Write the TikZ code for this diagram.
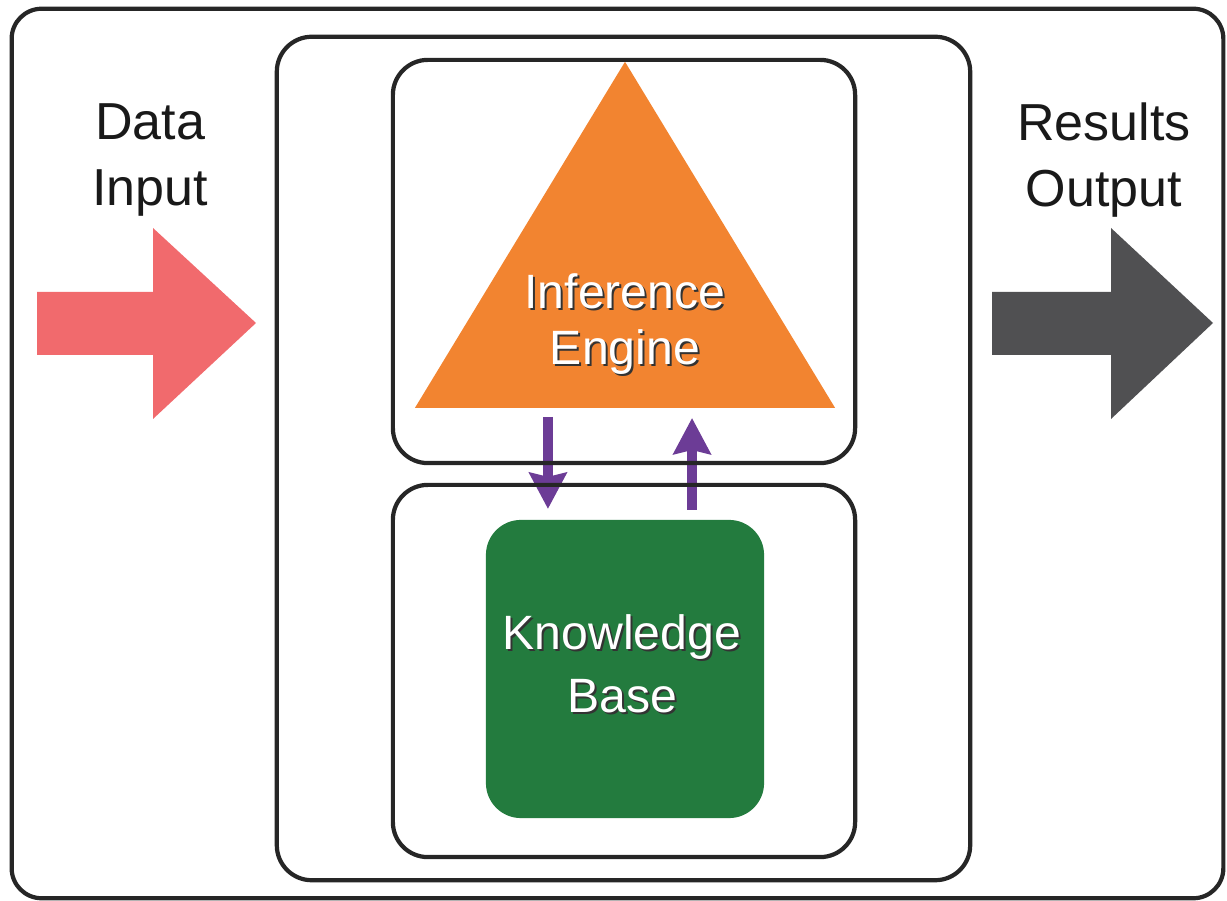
\documentclass[tikz,border=0pt]{standalone}
\usepackage{fontspec}
\setmainfont{Liberation Sans}
\usetikzlibrary{positioning,arrows.meta,shapes.geometric}

\definecolor{inred}{RGB}{241,106,109}
\definecolor{outgray}{RGB}{80,80,82}
\definecolor{ieorange}{RGB}{242,132,48}
\definecolor{kbgreen}{RGB}{35,123,62}
\definecolor{linkpurple}{RGB}{108,60,150}

\begin{document}
\begin{tikzpicture}[x=0.01cm,y=-0.01cm,>={Stealth[width=0.37cm,length=0.36cm,inset=0.04cm]},
	frame/.style={draw=black!85,line width=1.2pt,rounded corners=0.35cm,minimum width=#1,outer sep=0pt,inner sep=0pt},
	sidelabel/.style={font=\fontsize{14.8pt}{18.8pt}\selectfont,align=center,text=black!90},
	innerlabel/.style={font=\fontsize{13.7pt}{#1}\selectfont,align=center,text=white},
	shadowlabel/.style={font=\fontsize{13.7pt}{#1}\selectfont,align=center,text=black!80}]
	\useasboundingbox (0,0) rectangle (1227,901);

	\node [isosceles triangle,shape border rotate=90,isosceles triangle stretches,fill=ieorange,minimum width=4.2cm,minimum height=3.46cm,inner sep=0pt,outer sep=0pt,anchor=lower side] at (625,408) (ie) {};
	\node [shadowlabel=15.8pt] at (627,326) (ie_shadow) {Inference\\Engine};
	\node [innerlabel=15.8pt] at (625,324) (ie_text) {Inference\\Engine};

	\node [fill=kbgreen,rounded corners=0.35cm,minimum width=2.78cm,minimum height=2.98cm,inner sep=0pt,outer sep=0pt] at (625,669) (kb) {};
	\node [shadowlabel=17.9pt] at (624,666) (kb_shadow) {Knowledge\\Base};
	\node [innerlabel=17.9pt] at (622,664) (kb_text) {Knowledge\\Base};

	\draw[->,linkpurple,line width=0.1cm] ([xshift=-0.77cm,yshift=-0.09cm]ie.lower side) -- ([xshift=-0.77cm,yshift=0.11cm]kb.north);
	\draw[->,linkpurple,line width=0.1cm] ([xshift=0.67cm,yshift=0.1cm]kb.north) -- ([xshift=0.67cm,yshift=-0.1cm]ie.lower side);

	% frames on top of the links
	\node [frame=12.11cm,minimum height=8.89cm,rounded corners=0.3cm] at (617.5,453.5) (system) {};
	\node [frame=6.93cm,minimum height=8.43cm] at (623.5,458.5) (shell) {};
	\node [frame=4.62cm,minimum height=4.03cm] at (624,261.5) (ie_box) {};
	\node [frame=4.62cm,minimum height=3.72cm] at (624,671) (kb_box) {};

	\node [sidelabel] at (150,160) (data_in) {Data\\Input};
	\node [sidelabel] at (1104,160) (res_out) {Results\\Output};

	\fill[inred] (37,292) -- (153,292) -- (153,228) -- (256,323) -- (153,419) -- (153,355) -- (37,355) -- cycle;
	\fill[outgray] (992,292) -- (1111,292) -- (1111,228) -- (1213,323) -- (1111,419) -- (1111,355) -- (992,355) -- cycle;
\end{tikzpicture}
\end{document}
